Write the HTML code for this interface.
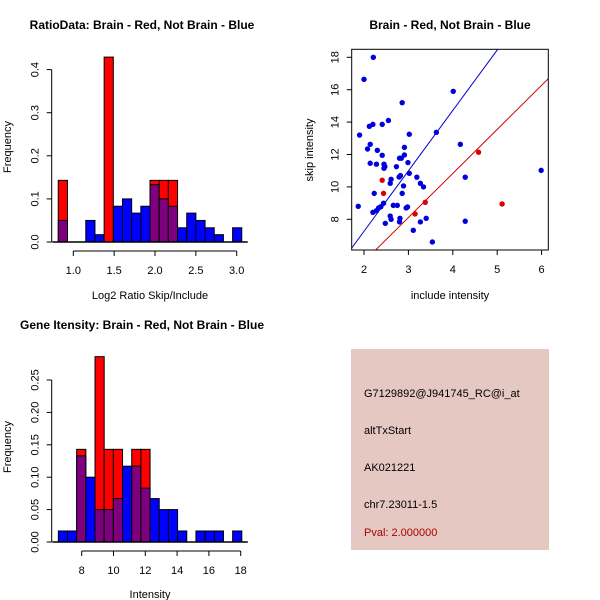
<!DOCTYPE html>
<html><head><meta charset="utf-8"><style>
html,body{margin:0;padding:0;background:#fff}
svg{display:block;font-family:"Liberation Sans",Arial,sans-serif}
</style></head><body>
<svg id="s" width="600" height="600" viewBox="0 0 600 600">
<rect width="600" height="600" fill="#fff"/>
<text x="142" y="29" font-size="12" font-weight="bold" text-anchor="middle">RatioData: Brain - Red, Not Brain - Blue</text>
<text x="150" y="299" font-size="11" text-anchor="middle">Log2 Ratio Skip/Include</text>
<text transform="translate(11,147) rotate(-90)" font-size="11" text-anchor="middle">Frequency</text>
<text x="450" y="29" font-size="12" font-weight="bold" text-anchor="middle">Brain - Red, Not Brain - Blue</text>
<text x="450" y="299" font-size="11" text-anchor="middle">include intensity</text>
<text transform="translate(313,150) rotate(-90)" font-size="11" text-anchor="middle">skip intensity</text>
<text x="142" y="329" font-size="12" font-weight="bold" text-anchor="middle">Gene Itensity: Brain - Red, Not Brain - Blue</text>
<text x="150" y="598" font-size="11" text-anchor="middle">Intensity</text>
<text transform="translate(11,447) rotate(-90)" font-size="11" text-anchor="middle">Frequency</text>
<g>
<rect x="351" y="349" width="198" height="201" fill="#e6c8c2"/>
<text x="364" y="397" font-size="11">G7129892@J941745_RC@i_at</text>
<text x="364" y="434" font-size="11">altTxStart</text>
<text x="364" y="471" font-size="11">AK021221</text>
<text x="364" y="508" font-size="11">chr7.23011-1.5</text>
<text x="364" y="536" font-size="11" fill="#aa0000">Pval: 2.000000</text>
</g>
</svg>
<script>
// ratio histogram data
const ratioStart = 0.816, ratioWidth = 0.1123;
const ratioBlue = [0.05,0,0,0.05,0.017,0,0.083,0.1,0.067,0.083,0.133,0.1,0.083,0.033,0.067,0.05,0.033,0.017,0,0.033];
const ratioRed  = [0.143,0,0,0,0,0.429,0,0,0,0,0.143,0.143,0.143,0,0,0,0,0,0,0];
const ratioXTicks = [1.0,1.5,2.0,2.5,3.0];
const ratioXLabels = ["1.0","1.5","2.0","2.5","3.0"];
const ratioYTicks = [0,0.1,0.2,0.3,0.4];
const ratioYLabels = ["0.0","0.1","0.2","0.3","0.4"];
// intensity histogram data
const intStart = 6.53, intWidth = 0.577;
const intBlue = [0.017,0.017,0.133,0.1,0.05,0.05,0.067,0.117,0.117,0.083,0.067,0.05,0.05,0.017,0,0.017,0.017,0.017,0,0.017];
const intRed  = [0,0,0.143,0,0.286,0.143,0.143,0,0.143,0.143,0,0,0,0,0,0,0,0,0,0];
const intXTicks = [8,10,12,14,16,18];
const intXLabels = ["8","10","12","14","16","18"];
const intYTicks = [0,0.05,0.1,0.15,0.2,0.25];
const intYLabels = ["0.00","0.05","0.10","0.15","0.20","0.25"];
// scatter data
const blueX = [2.21,2.0,1.87,1.9,2.12,2.2,2.41,2.55,2.86,4.01,2.08,2.14,2.3,2.41,2.14,2.28,2.45,2.47,2.45,2.73,2.8,2.84,2.91,2.91,3.02,3.63,4.17,2.99,3.02,2.79,2.82,2.61,2.59,2.89,3.19,3.27,3.34,4.28,2.23,2.86,2.44,2.66,2.75,2.95,2.98,2.2,2.28,2.33,2.38,2.59,2.61,2.48,2.81,2.8,3.27,3.4,3.11,3.54,4.28,5.99];
const blueY = [18.0,16.64,8.8,13.2,13.74,13.86,13.86,14.1,15.2,15.9,12.34,12.63,12.26,11.95,11.46,11.4,11.4,11.25,11.15,11.25,11.77,11.77,11.97,12.44,13.25,13.37,12.63,11.5,10.84,10.61,10.7,10.47,10.22,10.06,10.6,10.22,10.0,10.6,9.6,9.6,8.99,8.86,8.86,8.7,8.76,8.43,8.53,8.7,8.78,8.2,8.0,7.75,8.06,7.84,7.84,8.06,7.32,6.6,7.88,11.02];
const redX = [2.41,2.44,3.15,3.38,4.58,5.11];
const redY = [10.41,9.6,8.33,9.05,12.14,8.95];
const blueLine = [-0.2, 3.73];   // intercept, slope
const redLine = [-0.05, 2.72];
const scXTicks = [2,3,4,5,6];
const scYTicks = [8,10,12,14,16,18];

const NS = "http://www.w3.org/2000/svg";
const svg = document.getElementById('s');
function mk(tag, attrs, parent) {
  const e = document.createElementNS(NS, tag);
  for (const k in attrs) e.setAttribute(k, attrs[k]);
  (parent || svg).appendChild(e);
  return e;
}

function hist(cfg) {
  const g = mk('g', {});
  
  
  const X = v => cfg.x0 + (v - cfg.xv0) * cfg.xs;
  const Y = v => cfg.y0 - v * cfg.ys;
  const n = cfg.blue.length;
  for (let i = 0; i < n; i++) {
    const a = cfg.start + i * cfg.width, b = a + cfg.width;
    const xa = X(a), w = X(b) - X(a);
    const bl = cfg.blue[i], rd = cfg.red[i];
    const lo = Math.min(bl, rd), hi = Math.max(bl, rd);
    if (hi > 0) {
      const r = mk('rect', {x: xa, y: Y(hi), width: w, height: Y(0) - Y(hi), fill: bl > rd ? '#0000ff' : '#ff0000', stroke: '#000', 'stroke-width': 1}, g);
      
      
    }
    if (lo > 0) {
      const r = mk('rect', {x: xa, y: Y(lo), width: w, height: Y(0) - Y(lo), fill: '#7f007f', stroke: '#000', 'stroke-width': 1}, g);
      
      
    }
  }
  const base = mk('line', {x1: cfg.x0 + (cfg.start - cfg.xv0) * cfg.xs - 6, x2: X(cfg.start + n * cfg.width) + 6, y1: Y(0), y2: Y(0), stroke: '#000', 'stroke-width': 1.5}, g);
  
  
  // x axis
  const ax = cfg.y0 + 9;
  const xa = mk('line', {x1: X(cfg.xt[0]), x2: X(cfg.xt[cfg.xt.length - 1]), y1: ax, y2: ax, stroke: '#000'}, g);
  
  
  cfg.xt.forEach((t, i) => {
    mk('line', {x1: X(t), x2: X(t), y1: ax, y2: ax + 5, stroke: '#000'}, g);
    const tx = mk('text', {x: X(t), y: ax + 23, 'font-size': 11, 'text-anchor': 'middle'}, g);
    tx.textContent = cfg.xl[i];
    
    
  });
  // y axis
  const yx = cfg.yAxisX;
  const ya = mk('line', {x1: yx, x2: yx, y1: Y(0), y2: Y(cfg.yt[cfg.yt.length - 1]), stroke: '#000'}, g);
  
  
  cfg.yt.forEach((t, i) => {
    mk('line', {x1: yx - 5, x2: yx, y1: Y(t), y2: Y(t), stroke: '#000'}, g);
    const tx = mk('text', {transform: `translate(${yx - 13},${Y(t)}) rotate(-90)`, 'font-size': 11, 'text-anchor': 'middle'}, g);
    tx.textContent = cfg.yl[i];
    
    
  });
}

hist({name: 'ratio-histogram', start: ratioStart, width: ratioWidth, blue: ratioBlue, red: ratioRed,
  x0: 73.3, xv0: 1.0, xs: 81.7, y0: 242, ys: 431, xt: ratioXTicks, xl: ratioXLabels, yt: ratioYTicks, yl: ratioYLabels, yAxisX: 51.7});
hist({name: 'intensity-histogram', start: intStart, width: intWidth, blue: intBlue, red: intRed,
  x0: 81.7, xv0: 8, xs: 15.9, y0: 542, ys: 648, xt: intXTicks, xl: intXLabels, yt: intYTicks, yl: intYLabels, yAxisX: 51.7});

// scatter
(function () {
  const g = mk('g', {});
  
  
  const L = 351.7, R = 548.3, T = 49.3, B = 250;
  const X = v => 364 + (v - 2) * 44.4;
  const Y = v => 219.3 - (v - 8) * 16.2;
  const clip = mk('clipPath', {id: 'sc'}, g);
  mk('rect', {x: L, y: T, width: R - L, height: B - T}, clip);
  const xl = 1.7, xr = 6.2;
  const bln = mk('line', {x1: X(xl), y1: Y(blueLine[0] + blueLine[1] * xl), x2: X(xr), y2: Y(blueLine[0] + blueLine[1] * xr), stroke: '#0000cc', 'clip-path': 'url(#sc)'}, g);
  
  
  const rln = mk('line', {x1: X(xl), y1: Y(redLine[0] + redLine[1] * xl), x2: X(xr), y2: Y(redLine[0] + redLine[1] * xr), stroke: '#cc0000', 'clip-path': 'url(#sc)'}, g);
  
  
  blueX.forEach((v, i) => {
    const c = mk('circle', {cx: X(v), cy: Y(blueY[i]), r: 2.7, fill: '#0000dd'}, g);
    
    
  });
  redX.forEach((v, i) => {
    const c = mk('circle', {cx: X(v), cy: Y(redY[i]), r: 2.7, fill: '#dd0000'}, g);
    
    
  });
  const box = mk('rect', {x: L, y: T, width: R - L, height: B - T, fill: 'none', stroke: '#000'}, g);
  
  
  scXTicks.forEach(t => {
    mk('line', {x1: X(t), x2: X(t), y1: B, y2: B + 5, stroke: '#000'}, g);
    const tx = mk('text', {x: X(t), y: B + 23, 'font-size': 11, 'text-anchor': 'middle'}, g);
    tx.textContent = t;
    
    
  });
  scYTicks.forEach(t => {
    mk('line', {x1: L - 5, x2: L, y1: Y(t), y2: Y(t), stroke: '#000'}, g);
    const tx = mk('text', {transform: `translate(${L - 13},${Y(t)}) rotate(-90)`, 'font-size': 11, 'text-anchor': 'middle'}, g);
    tx.textContent = t;
    
    
  });
})();
</script>
</body></html>
